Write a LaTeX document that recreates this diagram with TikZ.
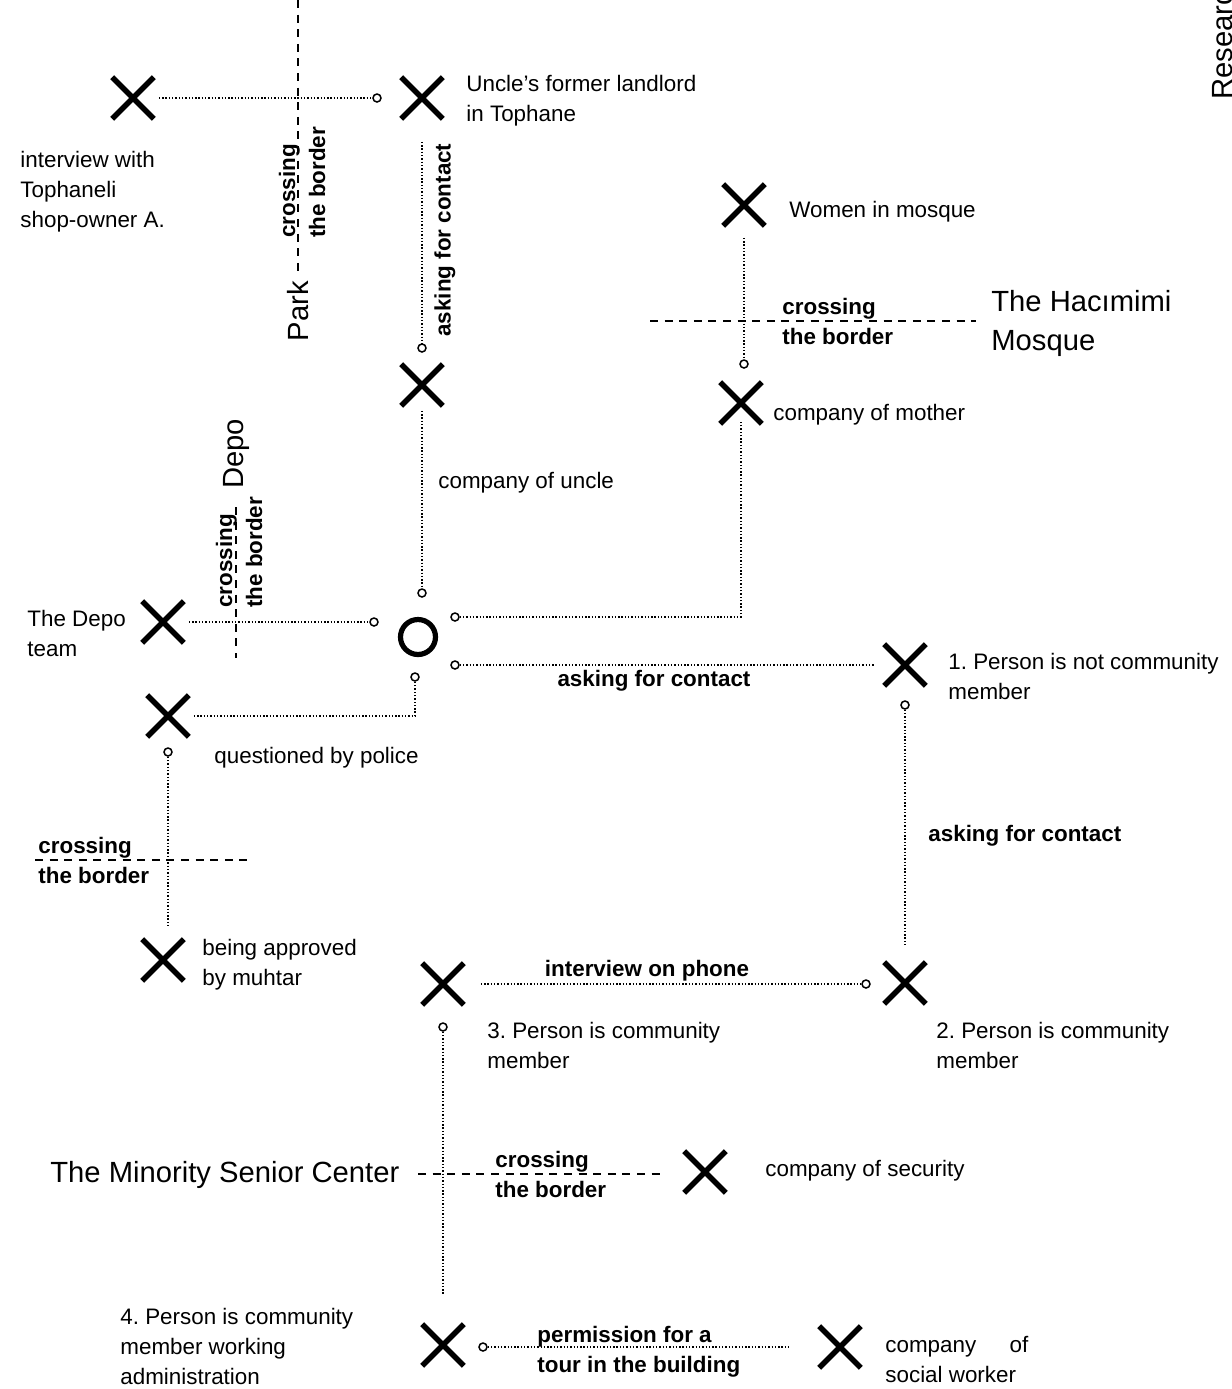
\documentclass[tikz,border=0pt]{standalone}
\usepackage{fontspec}
\setmainfont{Liberation Sans}
\usetikzlibrary{shapes.misc}
\frenchspacing
\tikzset{
  xmark/.style={cross out, draw, line width=2.8pt, minimum size=18pt, inner sep=0pt},
  smallc/.style={circle, draw, line width=0.75pt, minimum size=4pt, inner sep=0pt},
  bigo/.style={circle, draw, line width=2.6pt, minimum size=17.5pt, inner sep=0pt},
  dotline/.style={line width=0.7pt, dash pattern=on 0.7pt off 0.95pt},
  border/.style={line width=0.8pt, dash pattern=on 4pt off 3.3pt},
  lbl/.style={inner sep=0pt, font=\fontsize{11.2}{15}\selectfont, align=left},
  blbl/.style={inner sep=0pt, font=\fontsize{11.2}{15}\selectfont\bfseries, align=left},
  biglbl/.style={inner sep=0pt, font=\fontsize{14.6}{19.5}\selectfont, align=left},
}
\begin{document}
\begin{tikzpicture}[x=0.5pt, y=-0.5pt]
\useasboundingbox (0,0) rectangle (1232,1389);

% ---- X marks ----
\node[xmark] (x1) at (133,98) {};
\node[xmark] (x2) at (422,98) {};
\node[xmark] (x3) at (422,385) {};
\node[xmark] (x4) at (744,205) {};
\node[xmark] (x5) at (741,403) {};
\node[xmark] (x6) at (905,665) {};
\node[xmark] (x7) at (905,983) {};
\node[xmark] (x8) at (443,984) {};
\node[xmark] (x9) at (705,1172) {};
\node[xmark] (x10) at (443,1345) {};
\node[xmark] (x11) at (840,1347) {};
\node[xmark] (x12) at (163,622) {};
\node[xmark] (x13) at (168,716) {};
\node[xmark] (x14) at (163,960) {};

% ---- big circle ----
\node[bigo] (o) at (418,637) {};

% ---- small circles ----
\node[smallc] (c1) at (377,98) {};
\node[smallc] (c2) at (422,348) {};
\node[smallc] (c3) at (422,593) {};
\node[smallc] (cL) at (374,622) {};
\node[smallc] (cR1) at (455,617) {};
\node[smallc] (cR2) at (455,665) {};
\node[smallc] (cB) at (415,677) {};
\node[smallc] (c4) at (744,364) {};
\node[smallc] (c6) at (905,705) {};
\node[smallc] (c7) at (866,984) {};
\node[smallc] (c8) at (443,1027) {};
\node[smallc] (c10) at (483,1347) {};
\node[smallc] (cP) at (168,752) {};

% ---- dotted connectors ----
\draw[dotline, shorten <=2.5pt] (x1.east) -- (c1.west);
\draw[dotline, shorten <=11.5pt] (x2.south) -- (c2.north);
\draw[dotline, shorten <=2.5pt] (x3.south) -- (c3.north);
\draw[dotline, shorten <=2.5pt] (x12.east) -- (cL.west);
\draw[dotline, shorten <=2.5pt] (x13.east) -| (cB.south);
\draw[dotline, shorten >=-1pt] (cR1.east) -| (x5.south);
\draw[dotline, shorten <=6pt] (x4.south) -- (c4.north);
\draw[dotline, shorten >=5pt] (cR2.east) -- (x6.west);
\draw[dotline, shorten >=9pt] (c6.south) -- (x7.north);
\draw[dotline, shorten <=8.5pt] (x8.east) -- (c7.west);
\draw[dotline, shorten >=15pt] (c8.south) -- (x10.north);
\draw[dotline, shorten >=15pt] (c10.east) -- (x11.west);
\draw[dotline, shorten >=6.5pt] (cP.south) -- (cP |- x14.north);

% ---- dashed borders ----
\draw[border] (298,0) -- (298,272);
\draw[border] (236,507) -- (236,658);
\draw[border] (35,860) -- (252,860);
\draw[border] (650,321) -- (976,321);
\draw[border] (418,1174) -- (666,1174);

% ---- labels ----
\node[lbl, anchor=north west] (t1) at (20,151) {interview with\\Tophaneli\\shop-owner A.};
\node[lbl, anchor=north west] (t2) at (466,75) {Uncle’s former landlord\\in Tophane};
\node[biglbl, rotate=90] (tpark) at (298,311) {Park};
\node[blbl, rotate=90, anchor=west] (tcb1) at (302,238) {crossing\\the border};
\node[blbl, rotate=90] (tac1) at (445,240) {asking for contact};
\node[lbl, anchor=west] (t4) at (789,212) {Women in mosque};
\node[blbl, anchor=north west] (tcb2) at (782,298) {crossing\\the border};
\node[biglbl, anchor=north west] (tmosque) at (991,290) {The Hacımimi\\Mosque};
\node[lbl, anchor=west] (t5) at (773,415) {company of mother};
\node[lbl, anchor=west] (t3) at (438,483) {company of uncle};
\node[biglbl, rotate=90] (tdepo) at (236,454) {Depo};
\node[blbl, rotate=90, anchor=west] (tcb3) at (239,608) {crossing\\the border};
\node[lbl, anchor=north west] (t12) at (27,610) {The Depo\\team};
\node[lbl, anchor=west] (t13) at (214,758) {questioned by police};
\node[blbl] (tac2) at (654,681) {asking for contact};
\node[lbl, anchor=north west] (t6) at (948,653) {1. Person is not community\\member};
\node[blbl, anchor=west] (tac3) at (928,836) {asking for contact};
\node[blbl, anchor=north west] (tcb4) at (38,837) {crossing\\the border};
\node[lbl, anchor=north west] (t14) at (202,939) {being approved\\by muhtar};
\node[blbl] (tphone) at (647,971) {interview on phone};
\node[lbl, anchor=north west] (t8) at (487,1022) {3. Person is community\\member};
\node[lbl, anchor=north west] (t7) at (936,1022) {2. Person is community\\member};
\node[biglbl, anchor=west] (tmsc) at (50,1175) {The Minority Senior Center};
\node[blbl, anchor=north west] (tcb5) at (495,1151) {crossing\\the border};
\node[lbl, anchor=west] (t9) at (765,1171) {company of security};
\node[lbl, anchor=north west] (t10) at (120,1308) {4. Person is community\\member working\\administration};
\node[blbl, anchor=north west] (tperm) at (537,1326) {permission for a\\tour in the building};
\node[lbl, anchor=north west] (t11) at (885,1336) {\makebox[71.5pt][l]{company\hfill of}\\social worker};
\node[biglbl, rotate=90, anchor=west] (tres) at (1222,100) {Research};
\end{tikzpicture}
\end{document}
